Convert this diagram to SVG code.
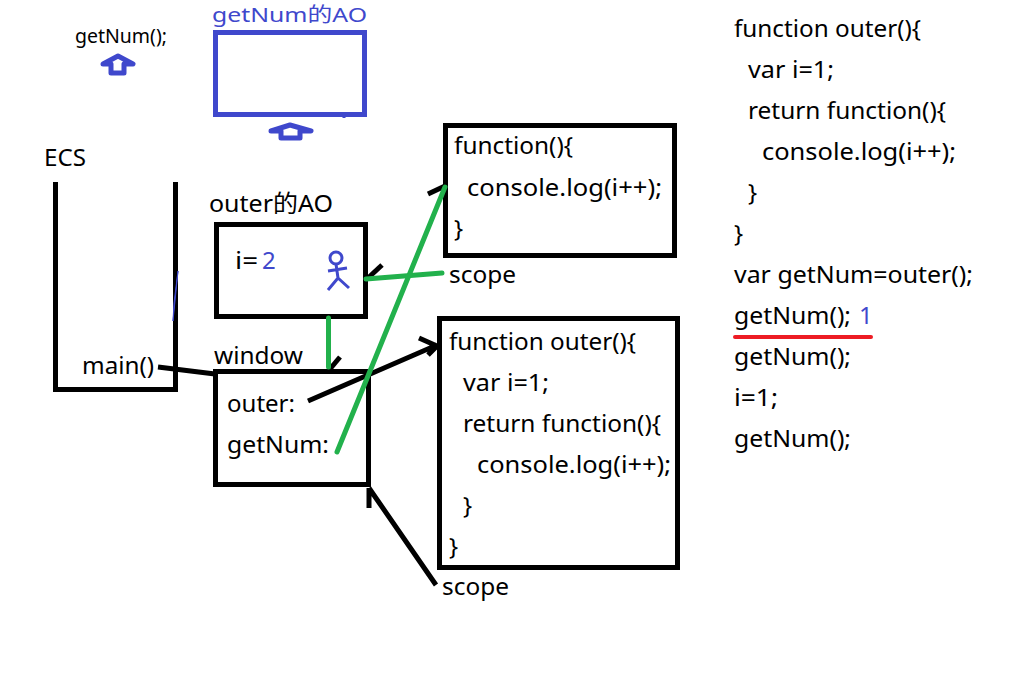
<svg xmlns="http://www.w3.org/2000/svg" width="1018" height="686" viewBox="0 0 1018 686">
<style>
text{font-family:"Noto Sans","Noto Sans CJK SC",sans-serif;font-size:24px;fill:#000}
.blue{fill:#3f48cc}
.k{fill:none;stroke:#000;stroke-width:5}
.b{fill:none;stroke:#3f48cc;stroke-width:5}
.g{fill:none;stroke:#22b14c;stroke-width:5;stroke-linecap:round}
</style>
<rect width="1018" height="686" fill="#fff"/>
<g id="getnum-call"><text x="75" y="43" textLength="92" lengthAdjust="spacingAndGlyphs" style="font-size:20px">getNum();</text><path class="b" stroke-linejoin="round" d="M103 64L118 56L133 64H124V73H111V64Z"/></g>
<g id="getnum-ao"><text class="blue" x="212" y="22" textLength="155" lengthAdjust="spacingAndGlyphs" style="font-size:20px">getNum的AO</text><rect class="b" x="215.500" y="32.500" width="149" height="82"/><path d="M214.500 73V94M344 116V118" stroke="#3f48cc" stroke-width="3" fill="none"/><path class="b" stroke-linejoin="round" d="M271 131L290 125L311 131H300V138H281V131Z"/></g>
<g id="ecs"><text x="44" y="166" textLength="42" lengthAdjust="spacingAndGlyphs">ECS</text><path class="k" d="M55.500 182V389.500H175.500V182"/><path d="M178 271L173 321L174 303Z" fill="#3f48cc" stroke="#3f48cc" stroke-width="1"/><text x="82" y="374" textLength="72" lengthAdjust="spacingAndGlyphs">main()</text></g>
<g id="outer-ao"><text x="209" y="212" textLength="124" lengthAdjust="spacingAndGlyphs">outer的AO</text><rect class="k" x="216.500" y="224.500" width="149" height="92"/><text x="235" y="269" textLength="23" lengthAdjust="spacingAndGlyphs">i=</text><text class="blue" x="262" y="269">2</text><g fill="none" stroke="#3f48cc" stroke-width="3"><circle cx="336" cy="258" r="6"/><path d="M336 264L338 278L328 290M338 278L349 288M328 271L347 268"/></g></g>
<g id="window"><text x="214" y="364" textLength="89" lengthAdjust="spacingAndGlyphs">window</text><rect class="k" x="215.500" y="371.500" width="153" height="113"/><text x="227" y="412" textLength="68" lengthAdjust="spacingAndGlyphs">outer:</text><text x="227" y="453" textLength="102" lengthAdjust="spacingAndGlyphs">getNum:</text></g>
<g id="fn-inner"><rect class="k" x="445.500" y="125.500" width="229" height="130"/><text x="454" y="154" textLength="119" lengthAdjust="spacingAndGlyphs">function(){</text><text x="467" y="196" textLength="195" lengthAdjust="spacingAndGlyphs">console.log(i++);</text><text x="454" y="237">}</text></g>
<g id="fn-outer"><rect class="k" x="439.500" y="318.500" width="238" height="249"/><text x="449" y="350" textLength="187" lengthAdjust="spacingAndGlyphs">function outer(){</text><text x="463" y="391" textLength="86" lengthAdjust="spacingAndGlyphs">var i=1;</text><text x="463" y="432" textLength="198" lengthAdjust="spacingAndGlyphs">return function(){</text><text x="477" y="473" textLength="194" lengthAdjust="spacingAndGlyphs">console.log(i++);</text><text x="463" y="514">}</text><text x="449" y="555">}</text></g>
<g id="scope-labels"><text x="449" y="283" textLength="67" lengthAdjust="spacingAndGlyphs">scope</text><text x="442" y="595" textLength="67" lengthAdjust="spacingAndGlyphs">scope</text></g>
<g id="code"><text x="734" y="37" textLength="187" lengthAdjust="spacingAndGlyphs">function outer(){</text><text x="748" y="78" textLength="86" lengthAdjust="spacingAndGlyphs">var i=1;</text><text x="748" y="119" textLength="198" lengthAdjust="spacingAndGlyphs">return function(){</text><text x="762" y="160" textLength="194" lengthAdjust="spacingAndGlyphs">console.log(i++);</text><text x="748" y="201">}</text><text x="734" y="242">}</text><text x="734" y="283" textLength="239" lengthAdjust="spacingAndGlyphs">var getNum=outer();</text><text x="734" y="324" textLength="117" lengthAdjust="spacingAndGlyphs">getNum();</text><text class="blue" x="859" y="324">1</text><text x="734" y="365" textLength="117" lengthAdjust="spacingAndGlyphs">getNum();</text><text x="734" y="406" textLength="44" lengthAdjust="spacingAndGlyphs">i=1;</text><text x="734" y="447" textLength="117" lengthAdjust="spacingAndGlyphs">getNum();</text><path d="M735 337H871" stroke="#ed1c24" stroke-width="4" stroke-linecap="round" fill="none"/></g>
<g id="connectors">
<path class="k" d="M158 367L215 374"/>
<path class="k" d="M308 401L437 345M419 338L437 346L428 355"/>
<path class="k" d="M436 585L369 488M369 488V508"/>
<path class="k" d="M428 194L445 186"/>
<path class="k" d="M340 357L330 369"/>
<path class="k" d="M382 265L368 278"/>
<path class="g" d="M337 452L445 187"/>
<path class="g" d="M366 279L442 273"/>
<path class="g" d="M328.500 318V367"/>
</g>
</svg>
